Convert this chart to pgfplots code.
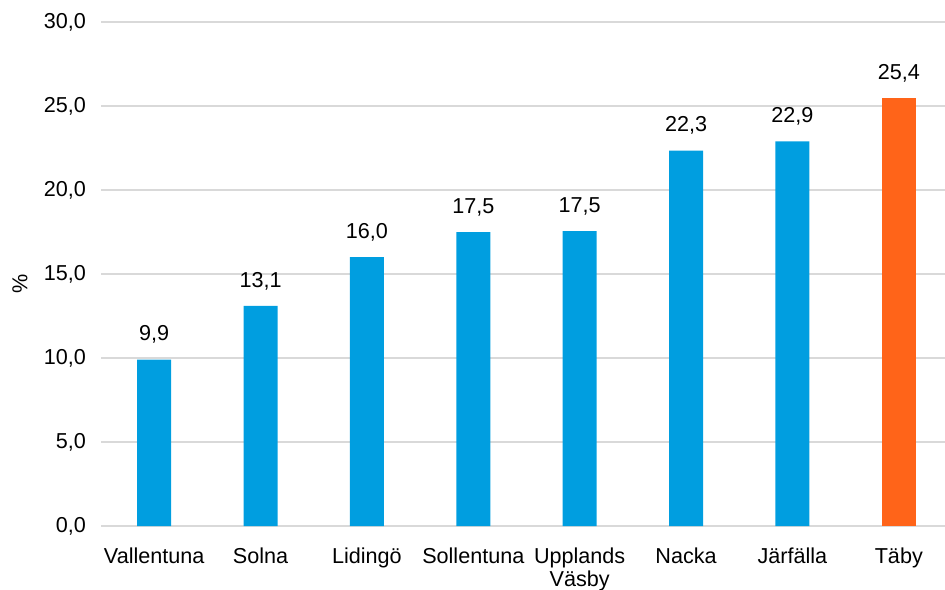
\documentclass[border=0pt]{standalone}
\usepackage{pgfplots}
\pgfplotsset{compat=1.18}
\usepackage{fontspec}
\setmainfont{Liberation Sans}
\definecolor{barblue}{RGB}{0,158,224}
\definecolor{barorange}{RGB}{255,100,25}
\definecolor{gridgray}{RGB}{217,217,217}
\begin{document}
\begin{tikzpicture}[font=\fontsize{10.8pt}{11.5pt}\selectfont]
\begin{axis}[
  at={(0,0)}, anchor=south west,
  scale only axis,
  width=425.5pt, height=252pt,
  xmin=-0.5, xmax=7.5,
  ymin=0, ymax=30,
  ytick={0,5,10,15,20,25,30},
  xtick={0,1,2,3,4,5,6,7},
  xticklabels={Vallentuna,Solna,Lidingö,Sollentuna,{Upplands\\Väsby},Nacka,Järfälla,Täby},
  xticklabel style={align=center, yshift=-7.5pt},
  yticklabel style={xshift=-4pt},
  major tick length=0pt,
  ymajorgrids,
  grid style={gridgray, line width=0.75pt},
  axis x line*=bottom,
  axis y line*=left,
  y axis line style={draw=none},
  x axis line style={gridgray, line width=1pt, -},
  yticklabel={\pgfmathprintnumber[fixed, fixed zerofill, precision=1, use comma, assume math mode=true]{\tick}},
  ylabel={\%},
  every axis y label/.style={at={(axis description cs:0,0.48)}, xshift=-40.5pt, rotate=90, anchor=center},
  ybar, bar width=17pt,
  point meta=explicit symbolic,
  nodes near coords,
  nodes near coords style={yshift=4.5pt},
  clip=false,
]
\addplot[fill=barblue, draw=none, bar shift=0pt] coordinates {(0,9.9) [9,9] (1,13.1) [13,1] (2,16.0) [16,0] (3,17.5) [17,5] (4,17.55) [17,5] (5,22.35) [22,3] (6,22.9) [22,9]};
\addplot[fill=barorange, draw=none, bar shift=0pt] coordinates {(7,25.45) [25,4]};
\end{axis}
\pgfresetboundingbox
\useasboundingbox (-50.5pt,-31.5pt) rectangle (422pt,263pt);
\end{tikzpicture}
\end{document}
